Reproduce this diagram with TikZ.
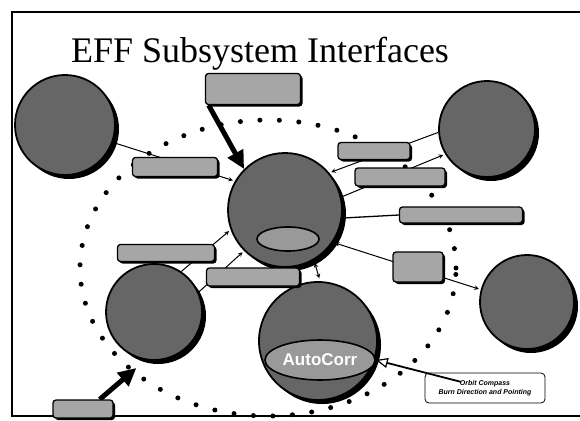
\documentclass[tikz,border=0pt]{standalone}
\usepackage{fontspec}
\setmainfont{Liberation Serif}
\setsansfont{Liberation Sans}
\usetikzlibrary{shapes,arrows,arrows.meta,positioning,calc,backgrounds,shadows}

\begin{document}
\begin{tikzpicture}[x=1pt, y=-1pt]
  % Estilos
  \tikzstyle{subsys}=[circle, draw=black, line width=1.8pt, fill=black!60, inner sep=0pt, drop shadow={shadow xshift=4pt, shadow yshift=-4pt, fill=black, opacity=1}]
  \tikzstyle{iface}=[rectangle, draw=black, line width=1.3pt, fill=black!35, rounded corners=3pt, inner sep=0pt, drop shadow={shadow xshift=2pt, shadow yshift=-2pt, fill=black, opacity=1}]
  \tikzstyle{inner}=[ellipse, draw=black, line width=1.6pt, fill=black!40, inner sep=0pt]
  \tikzstyle{conn}=[->, line width=1pt, >=stealth, shorten >=2pt]
  \tikzstyle{fat}=[-{Triangle[length=18pt, width=17pt]}, line width=5pt]
  \tikzstyle{ring}=[line width=5pt, line cap=round, dash pattern=on 0pt off 19.5pt]

  \useasboundingbox (0,0) rectangle (580,420);

  % Marco
  \draw[line width=1.5pt] (580,12) -- (12,12) -- (12,416) -- (580,416);

  % Titulo
  \node[anchor=base, font=\fontsize{36}{40}\selectfont] (title) at (260,63) {EFF Subsystem Interfaces};

  % Subsistemas
  \node[subsys, minimum size=100pt] (cTL) at (65,125) {};
  \node[subsys, minimum size=96pt] (cTR) at (487,129) {};
  \node[subsys, minimum size=114pt] (cCtr) at (285,210) {};
  \node[subsys, minimum size=96pt] (cBL) at (154,312) {};
  \node[subsys, minimum size=118pt] (cBot) at (318,341) {};
  \node[subsys, minimum size=94pt] (cR) at (527,302) {};

  % Elipses internas
  \node[inner, minimum width=62pt, minimum height=24pt] (share) at (288,239) {};
  \node[inner, minimum width=110pt, minimum height=40pt, text=white, font=\sffamily\bfseries\fontsize{17}{18}\selectfont] (autoc) at (320,360) {AutoCorr};

  % Etiquetas de interfaz
  \node[iface, minimum width=95pt, minimum height=31pt] (lbTop) at (253,89) {};
  \node[iface, minimum width=85pt, minimum height=19pt] (lbLeft) at (175,167) {};
  \node[iface, minimum width=72pt, minimum height=17pt] (lbR1) at (374,151) {};
  \node[iface, minimum width=90pt, minimum height=18pt] (lbR2) at (400,177) {};
  \node[iface, minimum width=123pt, minimum height=16pt] (lbDir) at (461,215) {};
  \node[iface, minimum width=50pt, minimum height=30pt] (lbStat) at (418,267) {};
  \node[iface, minimum width=97pt, minimum height=17pt] (lbUp) at (166,253) {};
  \node[iface, minimum width=93pt, minimum height=18pt] (lbMid) at (253,277) {};
  \node[iface, minimum width=60pt, minimum height=18pt] (lbCorner) at (83,409) {};
  \node[rectangle, draw=black, line width=0.8pt, fill=white, rounded corners=4pt, minimum width=120pt, minimum height=30pt, align=center, font=\sffamily\bfseries\itshape\fontsize{7}{9}\selectfont] (orbit) at (485,388) {Orbit Compass\\Burn Direction and Pointing};

  \begin{pgfonlayer}{background}
    % Anillo punteado
    \draw[ring] (268,268) ellipse [x radius=188pt, y radius=148pt];

    % Conexiones
    \draw[conn] (cTL.-20) -- (cCtr.150);
    \draw[conn] (cTR.184) -- (cCtr.40);
    \draw[conn] (cCtr.13) -- (cTR.211);
    \draw[line width=1.3pt] (cCtr.-8) -- (lbDir.west);
    \draw[conn, <->, shorten <=2pt] (cCtr.-34) -- (cR.165);
    \draw[conn] (cBL.56) -- (cCtr.200);
    \draw[conn] (cBL.24) -- (cCtr.225);
    \draw[conn, <->, shorten <=3pt, shorten >=3pt] (cCtr.-60) -- (cBot.88);

    % Flechas gruesas
    \draw[fat] (lbTop.200) -- (cCtr.135);
    \draw[fat, shorten >=12pt] (lbCorner.30) -- (cBL.260);
  \end{pgfonlayer}

  % AutoCorr a la caja de orbita
  \draw[line width=1.8pt, {Triangle[open, length=12pt, width=10pt, line width=1.2pt]}-] (autoc.east) -- ($(orbit.north west)!0.3!(orbit.south east)$);
\end{tikzpicture}
\end{document}
